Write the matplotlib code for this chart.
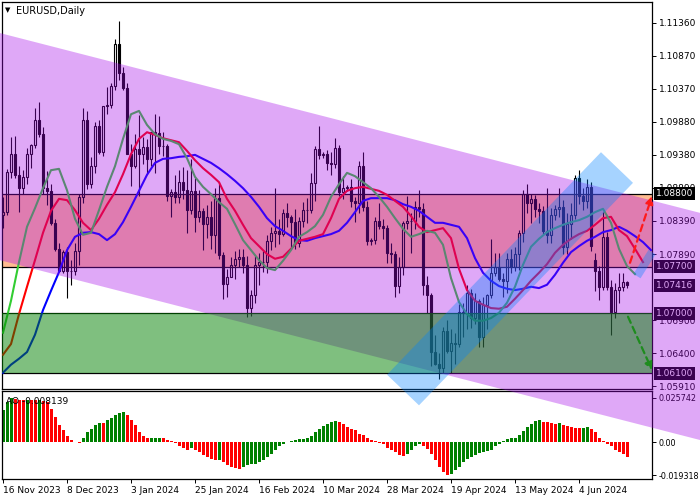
import numpy as np
import matplotlib.pyplot as plt
from matplotlib.patches import Polygon, Rectangle
from matplotlib.transforms import blended_transform_factory

# EURUSD daily candles, bar 0 = 16 Nov 2023
opens = [1.0848, 1.0852, 1.0913, 1.0940, 1.0908, 1.0888, 1.0905, 1.0940, 1.0953, 1.0990,
         1.0969, 1.0888, 1.0884, 1.0835, 1.0797, 1.0764, 1.0792, 1.0763, 1.0764, 1.0794,
         1.0874, 1.0990, 1.0895, 1.0922, 1.0981, 1.0942, 1.1011, 1.1013, 1.1042, 1.1105,
         1.1061, 1.1038, 1.0940, 1.0922, 1.0947, 1.0940, 1.0950, 1.0932, 1.0972, 1.0971,
         1.0951, 1.0951, 1.0877, 1.0883, 1.0874, 1.0897, 1.0886, 1.0855, 1.0884, 1.0845,
         1.0854, 1.0834, 1.0845, 1.0818, 1.0873, 1.0788, 1.0744, 1.0755, 1.0773, 1.0781,
         1.0785, 1.0773, 1.0708, 1.0727, 1.0772, 1.0777, 1.0777, 1.0808, 1.0820, 1.0823,
         1.0819, 1.0850, 1.0845, 1.0837, 1.0805, 1.0838, 1.0855, 1.0855, 1.0896, 1.0947,
         1.0938, 1.0940, 1.0926, 1.0925, 1.0948, 1.0883, 1.0888, 1.0890, 1.0868, 1.0865,
         1.0922, 1.0859, 1.0808, 1.0810, 1.0839, 1.0831, 1.0828, 1.0790, 1.0789, 1.0741,
         1.0770, 1.0836, 1.0839, 1.0838, 1.0860, 1.0856, 1.0742, 1.0727, 1.0642, 1.0624,
         1.0618, 1.0673, 1.0643, 1.0655, 1.0654, 1.0702, 1.0700, 1.0730, 1.0693, 1.0719,
         1.0665, 1.0713, 1.0727, 1.0761, 1.0770, 1.0752, 1.0748, 1.0782, 1.0770, 1.0789,
         1.0820, 1.0880, 1.0866, 1.0871, 1.0856, 1.0854, 1.0823, 1.0818, 1.0847, 1.0857,
         1.0860, 1.0800, 1.0834, 1.0848, 1.0903, 1.0877, 1.0868, 1.0890, 1.0780, 1.0763,
         1.0740, 1.0815, 1.0740, 1.0702, 1.0735, 1.0739, 1.0747]
highs = [1.0875, 1.0917, 1.0965, 1.0966, 1.0921, 1.0915, 1.0949, 1.0955, 1.1009, 1.1017,
         1.0980, 1.0914, 1.0895, 1.0842, 1.0806, 1.0795, 1.0800, 1.0780, 1.0806, 1.0879,
         1.1009, 1.1004, 1.0935, 1.0988, 1.0990, 1.1012, 1.1040, 1.1046, 1.1112, 1.1139,
         1.1070, 1.1046, 1.0955, 1.0970, 1.0998, 1.0965, 1.0962, 1.0973, 1.0999, 1.0997,
         1.0972, 1.0955, 1.0887, 1.0908, 1.0915, 1.0920, 1.0915, 1.0932, 1.0903, 1.0886,
         1.0858, 1.0862, 1.0868, 1.0888, 1.0897, 1.0792, 1.0767, 1.0784, 1.0794, 1.0797,
         1.0797, 1.0786, 1.0735, 1.0786, 1.0790, 1.0793, 1.0818, 1.0829, 1.0888, 1.0842,
         1.0856, 1.0865, 1.0847, 1.0856, 1.0845, 1.0867, 1.0873, 1.0911, 1.0951, 1.0981,
         1.0943, 1.0945, 1.0942, 1.0963, 1.0953, 1.0906, 1.0893, 1.0902, 1.0875, 1.0929,
         1.0942, 1.0868, 1.0813, 1.0845, 1.0865, 1.0841, 1.0833, 1.0805, 1.0793, 1.0785,
         1.0838, 1.0876, 1.0850, 1.0868, 1.0885, 1.0865, 1.0756, 1.0731, 1.0667, 1.0641,
         1.0680, 1.0690, 1.0677, 1.0671, 1.0714, 1.0716, 1.0743, 1.0736, 1.0730, 1.0721,
         1.0725, 1.0729, 1.0812, 1.0790, 1.0791, 1.0760, 1.0790, 1.0797, 1.0800, 1.0825,
         1.0886, 1.0895, 1.0880, 1.0878, 1.0866, 1.0861, 1.0889, 1.0858, 1.0863, 1.0889,
         1.0870, 1.0851, 1.0865, 1.0908, 1.0916, 1.0889, 1.0902, 1.0897, 1.0790, 1.0771,
         1.0852, 1.0822, 1.0750, 1.0745, 1.0761, 1.0761, 1.0749]
lows = [1.0828, 1.0848, 1.0903, 1.0904, 1.0852, 1.0880, 1.0895, 1.0918, 1.0948, 1.0965,
        1.0880, 1.0862, 1.0832, 1.0794, 1.0762, 1.0760, 1.0723, 1.0743, 1.0758, 1.0773,
        1.0866, 1.0887, 1.0888, 1.0911, 1.0940, 1.0937, 1.1000, 1.1008, 1.1036, 1.1050,
        1.1036, 1.0939, 1.0892, 1.0919, 1.0877, 1.0924, 1.0909, 1.0922, 1.0911, 1.0940,
        1.0937, 1.0868, 1.0844, 1.0865, 1.0866, 1.0872, 1.0821, 1.0849, 1.0822, 1.0837,
        1.0795, 1.0813, 1.0796, 1.0790, 1.0781, 1.0722, 1.0724, 1.0754, 1.0751, 1.0770,
        1.0760, 1.0695, 1.0696, 1.0715, 1.0742, 1.0762, 1.0761, 1.0795, 1.0800, 1.0804,
        1.0816, 1.0830, 1.0796, 1.0796, 1.0800, 1.0830, 1.0835, 1.0850, 1.0869, 1.0932,
        1.0934, 1.0915, 1.0908, 1.0918, 1.0876, 1.0871, 1.0884, 1.0860, 1.0837, 1.0851,
        1.0853, 1.0802, 1.0803, 1.0804, 1.0826, 1.0812, 1.0776, 1.0776, 1.0724, 1.0730,
        1.0757, 1.0826, 1.0790, 1.0827, 1.0845, 1.0728, 1.0700, 1.0621, 1.0622, 1.0601,
        1.0611, 1.0640, 1.0611, 1.0624, 1.0649, 1.0665, 1.0676, 1.0678, 1.0684, 1.0650,
        1.0650, 1.0676, 1.0723, 1.0756, 1.0748, 1.0724, 1.0730, 1.0760, 1.0764, 1.0765,
        1.0807, 1.0850, 1.0836, 1.0844, 1.0835, 1.0817, 1.0806, 1.0805, 1.0840, 1.0845,
        1.0789, 1.0789, 1.0812, 1.0842, 1.0864, 1.0855, 1.0858, 1.0793, 1.0733, 1.0720,
        1.0735, 1.0735, 1.0668, 1.0693, 1.0716, 1.0734, 1.0738]
closes = [1.0852, 1.0913, 1.0940, 1.0908, 1.0888, 1.0905, 1.0940, 1.0953, 1.0990, 1.0969,
          1.0888, 1.0884, 1.0835, 1.0797, 1.0764, 1.0792, 1.0763, 1.0764, 1.0794, 1.0874,
          1.0990, 1.0895, 1.0922, 1.0981, 1.0942, 1.1011, 1.1013, 1.1042, 1.1105, 1.1061,
          1.1038, 1.0940, 1.0922, 1.0947, 1.0940, 1.0950, 1.0932, 1.0972, 1.0971, 1.0951,
          1.0951, 1.0877, 1.0883, 1.0874, 1.0897, 1.0886, 1.0855, 1.0884, 1.0845, 1.0854,
          1.0834, 1.0845, 1.0818, 1.0873, 1.0788, 1.0744, 1.0755, 1.0773, 1.0781, 1.0785,
          1.0773, 1.0708, 1.0727, 1.0772, 1.0777, 1.0777, 1.0808, 1.0820, 1.0823, 1.0819,
          1.0850, 1.0845, 1.0837, 1.0805, 1.0838, 1.0855, 1.0855, 1.0896, 1.0947, 1.0938,
          1.0940, 1.0926, 1.0925, 1.0948, 1.0883, 1.0888, 1.0890, 1.0868, 1.0865, 1.0922,
          1.0859, 1.0808, 1.0810, 1.0839, 1.0831, 1.0828, 1.0790, 1.0789, 1.0741, 1.0770,
          1.0836, 1.0839, 1.0838, 1.0860, 1.0856, 1.0742, 1.0727, 1.0642, 1.0624, 1.0618,
          1.0673, 1.0643, 1.0655, 1.0654, 1.0702, 1.0700, 1.0730, 1.0693, 1.0719, 1.0665,
          1.0713, 1.0727, 1.0761, 1.0770, 1.0752, 1.0748, 1.0782, 1.0770, 1.0789, 1.0820,
          1.0880, 1.0866, 1.0871, 1.0856, 1.0854, 1.0823, 1.0818, 1.0847, 1.0857, 1.0860,
          1.0800, 1.0834, 1.0848, 1.0903, 1.0877, 1.0868, 1.0890, 1.0801, 1.0763, 1.0740,
          1.0815, 1.0740, 1.0702, 1.0735, 1.0739, 1.0747, 1.0742]

# Alligator lines, read every 2nd bar starting at bar 0 (already shifted forward)
jaw = [1.0611, 1.0623, 1.0632, 1.0642, 1.0668, 1.0705, 1.0734, 1.0762, 1.0795, 1.0815,
       1.0821, 1.0822, 1.0819, 1.0810, 1.0819, 1.0837, 1.0860, 1.0884, 1.0908, 1.0926,
       1.0932, 1.0933, 1.0935, 1.0936, 1.0938, 1.0932, 1.0926, 1.0918, 1.0909, 1.0899,
       1.0888, 1.0875, 1.0860, 1.0843, 1.0831, 1.0824, 1.0816, 1.0810, 1.0809, 1.0813,
       1.0816, 1.0819, 1.0824, 1.0836, 1.0852, 1.0869, 1.0873, 1.0873, 1.0873, 1.0870,
       1.0864, 1.0860, 1.0854, 1.0845, 1.0836, 1.0836, 1.0833, 1.0830, 1.0813, 1.0783,
       1.0761, 1.0749, 1.0741, 1.0737, 1.0735, 1.0737, 1.0740, 1.0738, 1.0743, 1.0758,
       1.0776, 1.0792, 1.0801, 1.0809, 1.0815, 1.0822, 1.0825, 1.0830, 1.0824, 1.0816,
       1.0807, 1.0795]
teeth = [1.0638, 1.0654, 1.0699, 1.0740, 1.0780, 1.0821, 1.0854, 1.0872, 1.0870, 1.0855,
         1.0836, 1.0825, 1.0842, 1.0863, 1.0882, 1.0909, 1.0939, 1.0962, 1.0972, 1.0968,
         1.0963, 1.0960, 1.0957, 1.0944, 1.0930, 1.0918, 1.0908, 1.0897, 1.0872, 1.0854,
         1.0833, 1.0813, 1.0801, 1.0789, 1.0782, 1.0785, 1.0797, 1.0809, 1.0812, 1.0815,
         1.0819, 1.0843, 1.0872, 1.0884, 1.0888, 1.0890, 1.0887, 1.0884, 1.0878, 1.0869,
         1.0860, 1.0846, 1.0830, 1.0822, 1.0825, 1.0828, 1.0813, 1.0767, 1.0735, 1.0719,
         1.0713, 1.0708, 1.0707, 1.0710, 1.0722, 1.0735, 1.0749, 1.0761, 1.0774, 1.0791,
         1.0803, 1.0812, 1.0819, 1.0824, 1.0833, 1.0843, 1.0845, 1.0825, 1.0816, 1.0797,
         1.0777]
lips = [1.0671, 1.0719, 1.0777, 1.0830, 1.0858, 1.0888, 1.0915, 1.0917, 1.0885, 1.0842,
        1.0818, 1.0821, 1.0855, 1.0890, 1.0921, 1.0962, 1.0999, 1.1004, 1.0983, 1.0969,
        1.0962, 1.0959, 1.0954, 1.0933, 1.0905, 1.0890, 1.0879, 1.0867, 1.0857, 1.0834,
        1.0810, 1.0795, 1.0780, 1.0768, 1.0765, 1.0779, 1.0795, 1.0815, 1.0822, 1.0831,
        1.0848, 1.0875, 1.0894, 1.0911, 1.0906, 1.0897, 1.0888, 1.0875, 1.0860, 1.0843,
        1.0827, 1.0815, 1.0819, 1.0824, 1.0821, 1.0803, 1.0753, 1.0717, 1.0699, 1.0689,
        1.0689, 1.0693, 1.0701, 1.0716, 1.0740, 1.0773, 1.0800, 1.0812, 1.0822, 1.0828,
        1.0833, 1.0837, 1.0840, 1.0845, 1.0852, 1.0857, 1.0836, 1.0797, 1.0771, 1.0759]

# Awesome Oscillator, one value per bar
ao = [0.0184, 0.0233, 0.0257, 0.0249, 0.0245, 0.0244, 0.0247, 0.0243, 0.0242, 0.0246,
      0.0240, 0.0233, 0.0194, 0.0145, 0.0097, 0.0068, 0.0033, 0.0014, 0.0002, -0.0004,
      0.0023, 0.0058, 0.0078, 0.0097, 0.0110, 0.0109, 0.0126, 0.0140, 0.0155, 0.0169,
      0.0174, 0.0155, 0.0126, 0.0097, 0.0058, 0.0033, 0.0023, 0.0024, 0.0025, 0.0026,
      0.0025, 0.0013, 0.0004, -0.0006, -0.0025, -0.0033, -0.0044, -0.0033, -0.0044, -0.0058,
      -0.0074, -0.0087, -0.0097, -0.0107, -0.0105, -0.0116, -0.0136, -0.0145, -0.0149, -0.0155,
      -0.0145, -0.0136, -0.0130, -0.0126, -0.0116, -0.0107, -0.0087, -0.0072, -0.0049, -0.0025,
      -0.0010, 0.0001, 0.0009, 0.0013, 0.0017, 0.0019, 0.0023, 0.0033, 0.0058, 0.0078,
      0.0091, 0.0105, 0.0116, 0.0120, 0.0116, 0.0103, 0.0087, 0.0078, 0.0068, 0.0045,
      0.0039, 0.0025, 0.0010, 0.0004, -0.0004, -0.0010, -0.0033, -0.0045, -0.0058, -0.0078,
      -0.0083, -0.0068, -0.0045, -0.0025, -0.0014, -0.0021, -0.0039, -0.0068, -0.0107, -0.0145,
      -0.0174, -0.0193, -0.0184, -0.0165, -0.0145, -0.0116, -0.0097, -0.0087, -0.0078, -0.0064,
      -0.0058, -0.0052, -0.0045, -0.0025, -0.0010, 0.0006, 0.0016, 0.0023, 0.0025, 0.0039,
      0.0064, 0.0087, 0.0107, 0.0122, 0.0126, 0.0116, 0.0114, 0.0110, 0.0107, 0.0109,
      0.0097, 0.0091, 0.0087, 0.0083, 0.0081, 0.0083, 0.0087, 0.0078, 0.0058, 0.0025,
      0.0004, -0.0010, -0.0025, -0.0045, -0.0058, -0.0068, -0.0087]

# 1.07400 sits fully under the current-price box, so it is left out
price_ticks = [1.1136, 1.1087, 1.1037, 1.0988, 1.0938, 1.0889, 1.0839, 1.0789,
               1.0690, 1.0640, 1.0591]
level_boxes = [1.0880, 1.0770, 1.07416, 1.0700, 1.0610]
level_lines = [1.0880, 1.0770, 1.0700, 1.0610]
pink_zone = (1.0770, 1.0880)
green_zone = (1.0610, 1.0700)
date_ticks = [0, 16, 32, 48, 64, 80, 96, 112, 128, 144]
date_labels = ['16 Nov 2023', '8 Dec 2023', '3 Jan 2024', '25 Jan 2024', '16 Feb 2024',
               '10 Mar 2024', '28 Mar 2024', '19 Apr 2024', '13 May 2024', '4 Jun 2024']
ao_ticks = [0.025742, 0.0, -0.019318]
ao_tick_labels = ['0.025742', '0.00', '-0.019318']

# hand drawn channels (bar index, price)
band_x = [-1.5, 175.5]
band_top = [1.1122, 1.0849]
band_bottom = [1.0781, 1.0508]
chan_x = [96.0, 104.0, 157.5, 149.5]
chan_y = [1.0608, 1.0562, 1.0896, 1.0942]
up_arrow = [(156.75, 1.0776), (162.25, 1.0876)]
down_arrow = [(156.25, 1.0695), (162.25, 1.0615)]

fs = 6.5
fig = plt.figure(figsize=(7, 5), dpi=100)
ax = fig.add_axes([2/700, 111/500, 650/700, 387/500])
ax2 = fig.add_axes([2/700, 21/500, 650/700, 88/500])

o = np.array(opens); h = np.array(highs); l = np.array(lows); c = np.array(closes)
x = np.arange(len(c))
up = c >= o
lo = np.minimum(o, c)
hi = np.maximum(o, c)

ax.axhspan(*pink_zone, facecolor='#FFBC91', edgecolor='none', zorder=0.5)
for p in level_lines:
    ax.axhline(p, color='black', lw=0.9, zorder=1)

# wicks outside the body so hollow candles stay hollow
ax.vlines(x, l, lo, color='black', lw=0.8, zorder=3)
ax.vlines(x, hi, h, color='black', lw=0.8, zorder=3)
hgt = np.maximum(hi - lo, 0.00002)
ax.bar(x[up], hgt[up], bottom=lo[up], width=0.5, facecolor='none',
       edgecolor='black', lw=0.8, zorder=3)
ax.bar(x[~up], hgt[~up], bottom=lo[~up], width=0.5, facecolor='black',
       edgecolor='black', lw=0.8, zorder=3)

ax.plot(np.arange(0, 2*len(jaw), 2), jaw, color='#0000FF', lw=1.5, zorder=4)
ax.plot(np.arange(0, 2*len(teeth), 2), teeth, color='#FF0000', lw=1.5, zorder=4)
ax.plot(np.arange(0, 2*len(lips), 2), lips, color='#32CD32', lw=1.5, zorder=4)

ax.set_xlim(-0.25, 162.25)
ax.set_ylim(1.05865, 1.11675)
ax.yaxis.tick_right()
ax.set_yticks(price_ticks)
ax.set_yticklabels(['%.5f' % p for p in price_ticks])
ax.tick_params(axis='y', length=3, width=0.7, labelsize=fs, pad=2)
ax.tick_params(axis='x', bottom=False, labelbottom=False)
for s in ax.spines.values():
    s.set_linewidth(0.9)

tr = blended_transform_factory(ax.transAxes, ax.transData)
for p in level_boxes:
    ax.text(1.0065, p, '%.5f' % p, transform=tr, color='white', fontsize=fs,
            va='center', ha='left', zorder=6,
            bbox=dict(boxstyle='square,pad=0.2', fc='black', ec='none'))

ax.text(0.005, 0.987, '\u25bc', transform=ax.transAxes, fontsize=5, va='top')
ax.text(0.021, 0.99, 'EURUSD,Daily', transform=ax.transAxes, fontsize=7, va='top')

# AO histogram: green when rising, red when falling
ao_arr = np.array(ao)
rising = np.concatenate([[True], ao_arr[1:] > ao_arr[:-1]])
cols = np.where(rising, '#008000', '#FF0000')
ax2.bar(np.arange(len(ao)), ao, width=0.75, color=cols)
ax2.set_xlim(-0.25, 162.25)
ax2.set_ylim(-0.0215, 0.0297)
ax2.yaxis.tick_right()
ax2.set_yticks(ao_ticks)
ax2.set_yticklabels(ao_tick_labels)
ax2.set_xticks(date_ticks)
ax2.set_xticklabels(date_labels)
for t in ax2.get_xticklabels():
    t.set_ha('left')
ax2.tick_params(axis='x', length=3, width=0.7, labelsize=fs, pad=2)
ax2.tick_params(axis='y', length=3, width=0.7, labelsize=5.8, pad=1.5)
for s in ax2.spines.values():
    s.set_linewidth(0.9)
ax2.text(0.006, 0.93, 'AO -0.008139', transform=ax2.transAxes, fontsize=fs, va='top')

# overlay layer drawn over the whole picture
ov = fig.add_axes([0, 0, 1, 1], zorder=10)
ov.set_axis_off()
band = Polygon([(band_x[0], band_top[0]), (band_x[1], band_top[1]),
                (band_x[1], band_bottom[1]), (band_x[0], band_bottom[0])],
               closed=True, transform=ax.transData, facecolor='#A606EA',
               alpha=0.35, edgecolor='none', clip_on=False)
ov.add_patch(band)
green = Rectangle((0, green_zone[0]), 1, green_zone[1] - green_zone[0], transform=tr,
                  facecolor='#008000', alpha=0.5, edgecolor='none', clip_on=False)
ov.add_patch(green)
chan = Polygon(list(zip(chan_x, chan_y)), closed=True, transform=ax.transData,
               facecolor='#0082FF', alpha=0.35, edgecolor='none', clip_on=False)
ov.add_patch(chan)
ov.plot([162.25, 158.5], [1.0792, 1.0756], transform=ax.transData, color='#0082FF',
        alpha=0.35, lw=6, solid_capstyle='butt', clip_on=False)

ov.annotate('', xy=up_arrow[1], xytext=up_arrow[0], xycoords=ax.transData,
            textcoords=ax.transData, annotation_clip=False,
            arrowprops=dict(arrowstyle='-|>', color='#FF1A1A', lw=1.6,
                            linestyle=(0, (3, 2)), mutation_scale=11,
                            shrinkA=0, shrinkB=0))
ov.annotate('', xy=down_arrow[1], xytext=down_arrow[0], xycoords=ax.transData,
            textcoords=ax.transData, annotation_clip=False,
            arrowprops=dict(arrowstyle='-|>', color='#1E8C1E', lw=1.6,
                            linestyle=(0, (3, 2)), mutation_scale=11,
                            shrinkA=0, shrinkB=0))

fig.savefig('out.png', dpi=100)
